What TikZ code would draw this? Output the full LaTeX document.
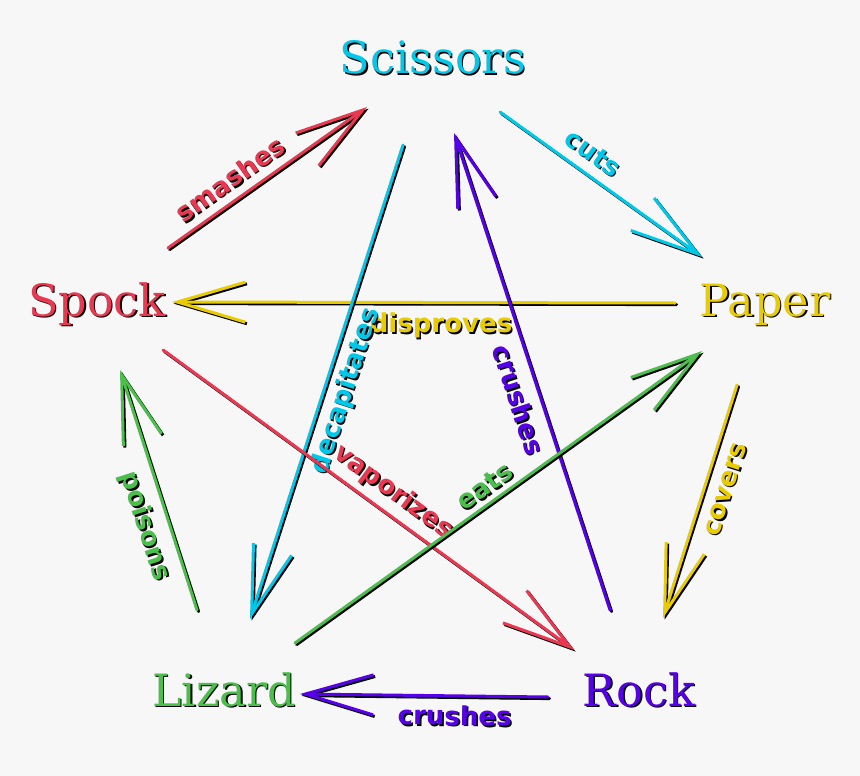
\documentclass[tikz,border=0pt]{standalone}
\usepackage{fontspec}
\setmainfont{DejaVu Serif}
\newfontfamily\lblfont{DejaVu Sans}
\usetikzlibrary{arrows.meta,calc}
\definecolor{cCyan}{RGB}{0,200,232}
\definecolor{cYellow}{RGB}{232,204,0}
\definecolor{cRed}{RGB}{232,56,82}
\definecolor{cGreen}{RGB}{76,190,76}
\definecolor{cPurple}{RGB}{88,0,232}
\definecolor{bgc}{RGB}{247,247,247}
\tikzset{
  connline/.style={line width=3pt, line cap=round, -{Straight Barb[length=68pt,width=40pt]}},
  shadowed/.style={transform canvas={xshift=1.6pt,yshift=-1.6pt}},
  lbl/.style={font=\lblfont\bfseries\fontsize{26}{26}\selectfont, inner sep=0pt, sloped},
  title/.style={font=\fontsize{44.5}{44.5}\selectfont, anchor=base, inner sep=0pt},
}
\newcommand\rpsarrow[8]{%
  \draw[connline, black, shadowed] (#2) -- node[lbl, pos=#4, #5=#6, black] (#8s) {#7} (#3);
  \draw[connline, #1] (#2) -- node[lbl, pos=#4, #5=#6, text=#1] (#8) {#7} (#3);
}
\newcommand\rpstitle[4]{%
  \node[title, black, shadowed] (#1s) at (#2) {#4};
  \node[title, text=#3] (#1) at (#2) {#4};
}
\begin{document}
\begin{tikzpicture}[x=1pt,y=-1pt]
\useasboundingbox (0,0) rectangle (860,776);
\fill[bgc] (0,0) rectangle (860,776);
% titles
\rpstitle{scissors}{433,74}{cCyan}{Scissors}
\rpstitle{paper}{765,316}{cYellow}{Paper}
\rpstitle{spock}{97,316}{cRed}{Spock}
\rpstitle{lizard}{224,706}{cGreen}{Lizard}
\rpstitle{rock}{639,706}{cPurple}{Rock}
% arrow end points
\coordinate (smA) at (168,248); \coordinate (smB) at (367,107);
\coordinate (cuA) at (500,112); \coordinate (cuB) at (702,257);
\coordinate (diA) at (675,303); \coordinate (diB) at (172,302);
\coordinate (deA) at (403,145); \coordinate (deB) at (250,619);
\coordinate (crA) at (610,610); \coordinate (crB) at (454,133);
\coordinate (vaA) at (163,350); \coordinate (vaB) at (574,650);
\coordinate (eaA) at (295,643); \coordinate (eaB) at (702,351);
\coordinate (coA) at (737,385); \coordinate (coB) at (663,618);
\coordinate (poA) at (197,610); \coordinate (poB) at (120,370);
\coordinate (rlA) at (548,697); \coordinate (rlB) at (300,694);
% connectors
\rpsarrow{cRed}{smA}{smB}{0.37}{above}{9pt}{smashes}{lsmashes}
\rpsarrow{cCyan}{cuA}{cuB}{0.40}{above}{10pt}{cuts}{lcuts}
\rpsarrow{cYellow}{diA}{diB}{0.465}{below}{9pt}{disproves}{ldisproves}
\rpsarrow{cCyan}{deA}{deB}{0.505}{below}{7pt}{decapitates}{ldecap}
\rpsarrow{cPurple}{crA}{crB}{0.455}{below}{10pt}{crushes}{lcrushA}
\rpsarrow{cRed}{vaA}{vaB}{0.53}{above}{7pt}{vaporizes}{lvapor}
\rpsarrow{cGreen}{eaA}{eaB}{0.49}{above}{6pt}{eats}{leats}
\rpsarrow{cYellow}{coA}{coB}{0.42}{below}{12pt}{covers}{lcovers}
\rpsarrow{cGreen}{poA}{poB}{0.38}{below}{10pt}{poisons}{lpoisons}
\rpsarrow{cPurple}{rlA}{rlB}{0.375}{below}{8pt}{crushes}{lcrushB}
\end{tikzpicture}
\end{document}
